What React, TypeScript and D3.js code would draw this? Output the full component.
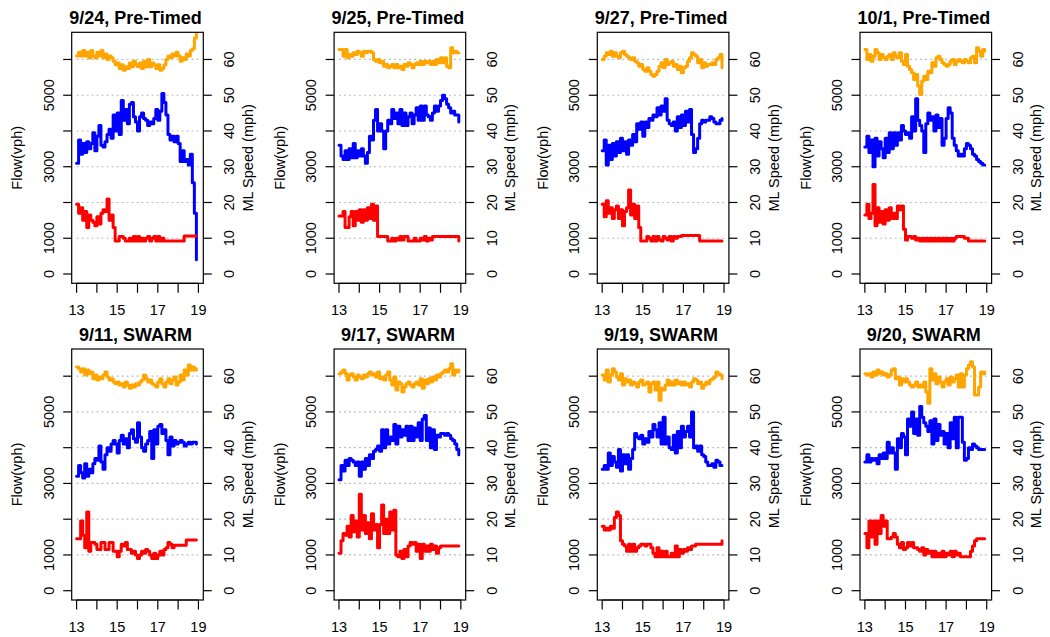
import React from "react";
import * as d3 from "d3";

// ---- time axis (hours) ----
const hours = [
  13.0, 13.1, 13.2, 13.3, 13.4, 13.5, 13.6, 13.7, 13.8, 13.9,
  14.0, 14.1, 14.2, 14.3, 14.4, 14.5, 14.6, 14.7, 14.8, 14.9,
  15.0, 15.1, 15.2, 15.3, 15.4, 15.5, 15.6, 15.7, 15.8, 15.9,
  16.0, 16.1, 16.2, 16.3, 16.4, 16.5, 16.6, 16.7, 16.8, 16.9,
  17.0, 17.1, 17.2, 17.3, 17.4, 17.5, 17.6, 17.7, 17.8, 17.9,
  18.0, 18.1, 18.2, 18.3, 18.4, 18.5, 18.6, 18.7, 18.8, 18.9,
];
const xTicks = [13, 14, 15, 16, 17, 18, 19];
const xTickLabels = ["13", "", "15", "", "17", "", "19"];
const flowTicks = [0, 1000, 2000, 3000, 4000, 5000, 6000];
const flowTickLabels = ["0", "1000", "", "3000", "", "5000", ""];
const speedTicks = [0, 10, 20, 30, 40, 50, 60];
const gridSpeeds = [10, 20, 30, 40, 50, 60];

const titles = [
  "9/24, Pre-Timed", "9/25, Pre-Timed", "9/27, Pre-Timed", "10/1, Pre-Timed",
  "9/11, SWARM", "9/17, SWARM", "9/19, SWARM", "9/20, SWARM",
];

// ---- ML speed (mph), orange ----
const speed0924 = [61,62,61,62.5,61,62,60.5,62.5,61,60.5, 62,61,62.5,60.5,61.5,60,61,60.5,59.5,58.5, 59,57.5,58.5,57,58,57.5,59,58,59.5,58.5, 58,59,57.5,59.5,58,60,58,59,58.5,57.5, 58.5,57,57.5,58.5,60,61,60.5,61.5,61,62, 61,59.5,60.5,60,61.5,61,62.5,63,66,69];
const speed0925 = [62.8,62.8,60.9,62.8,60.5,61.4,60.9,61.9,61.4,62.3, 61.9,60.9,62.3,61.9,62.3,62.3,61.9,60.0,59.5,60.0, 59.1,59.5,58.1,58.6,57.7,58.1,58.6,57.7,58.6,57.7, 58.1,57.2,58.6,58.1,59.1,58.6,57.7,58.6,59.1,58.6, 59.5,58.6,59.5,59.1,59.5,58.6,59.5,58.6,60.0,59.1, 60.5,59.1,60.5,58.1,57.7,63.3,61.9,62.3,61.9,61.9];
const speed0927 = [60.0,60.9,61.9,61.4,62.3,60.9,61.9,60.9,60.5,61.9, 62.3,61.4,60.9,60.5,60.0,60.5,59.5,59.1,58.1,58.6, 57.2,56.7,57.7,56.7,55.8,55.3,55.8,56.7,58.1,59.1, 57.7,60.0,58.6,59.1,59.5,58.1,58.6,57.2,58.1,56.3, 57.7,58.1,59.5,60.5,61.9,61.4,60.9,59.1,60.0,57.7, 59.1,58.1,58.6,58.6,59.1,58.6,60.0,60.5,61.4,57.7];
const speed1001 = [62.8,60.0,61.4,59.5,60.9,62.8,61.9,60.0,61.4,60.5, 60.0,60.9,61.4,60.0,61.9,60.9,60.5,61.9,59.5,58.6, 61.4,58.1,57.2,56.3,54.4,55.8,52.6,50.2,54.0,55.3, 54.4,56.7,56.3,59.1,58.1,60.5,60.9,60.0,59.1,58.6, 58.1,58.6,59.5,60.0,58.6,59.5,60.0,59.5,59.1,60.0, 59.5,59.1,60.5,60.9,59.1,63.3,62.3,60.9,62.8,62.3];
const speed0911 = [62.6,62.1,61.2,62.1,60.3,61.7,60.7,61.2,59.3,60.3, 58.9,59.8,59.3,60.3,61.2,59.8,58.9,59.3,58.4,57.9, 58.4,57.5,57.9,57.0,58.4,57.5,56.6,57.5,57.0,57.9, 57.5,58.4,58.9,60.3,59.3,58.4,58.9,57.9,57.5,57.0, 58.4,59.3,57.9,57.0,58.4,59.3,57.9,58.9,59.8,57.5, 58.4,60.3,58.9,61.7,60.3,63.1,61.7,62.6,61.7,62.1];
const speed0917 = [60.7,61.2,61.7,60.7,58.9,60.3,60.7,59.8,58.9,60.3, 59.8,59.3,60.3,59.8,60.7,61.2,60.3,60.7,59.8,61.2, 59.3,59.8,58.9,60.3,61.2,58.9,57.5,59.8,56.1,58.4, 57.9,55.6,57.0,57.9,58.4,57.5,57.0,57.9,58.4,57.5, 59.3,56.6,58.9,57.9,59.3,58.4,59.8,58.9,60.3,59.8, 60.7,61.2,61.7,61.2,62.1,63.5,60.3,61.7,61.2,61.7];
const speed0919 = [60.3,58.9,61.7,58.4,60.3,62.1,61.2,59.8,58.9,60.7, 57.5,59.3,58.4,58.9,57.5,58.4,57.9,57.0,58.4,58.9, 57.5,57.9,58.4,55.6,57.9,58.4,56.1,58.4,53.3,56.6, 56.1,57.5,58.9,57.5,58.4,57.5,58.9,57.9,58.4,57.5, 58.4,57.5,57.9,57.0,58.4,59.3,58.9,57.9,58.4,56.6, 57.5,58.4,57.9,58.9,59.3,59.8,61.2,60.7,60.3,59.3];
const speed0920 = [60.7,60.3,60.7,59.8,61.2,60.3,61.7,60.7,61.2,60.3, 60.7,59.8,60.3,61.7,62.1,59.3,59.8,57.5,59.3,58.4, 59.3,58.4,57.5,57.0,57.5,58.4,57.0,57.5,57.0,58.4, 55.6,52.4,62.1,58.9,60.7,57.9,59.8,58.4,57.0,58.4, 59.3,57.5,59.8,58.4,59.3,60.3,57.0,60.7,57.0,60.3, 62.1,63.1,64.0,62.6,54.7,54.7,57.0,61.2,60.7,61.2];

// ---- mainline flow (vph), blue ----
const mlFlow0924 = [3100,3750,3350,3650,3400,3700,3500,3650,3950,3450, 3850,4150,3600,3550,3700,3900,4050,3800,4450,4000, 4500,3900,4850,4300,4600,4200,4750,4800,4400,4250, 4000,4400,4500,4350,4300,4150,4250,4200,4350,4600, 4300,4550,5050,4800,4450,3900,3750,3850,3700,3850, 3650,3150,3450,3150,3200,3050,3350,2550,1700,400];
const mlFlow0925 = [3600,3300,3200,3450,3200,3500,3250,3650,3250,3450, 3300,3500,3300,3100,3400,3850,3750,4300,4600,4000, 4200,4000,3500,4000,4300,4200,4600,4350,4500,4200, 4600,4150,4500,4150,4400,4500,4200,4450,4650,4300, 4700,4300,4700,4450,4400,4300,4500,4700,4550,4700, 4850,5000,4900,4750,4650,4500,4550,4450,4450,4250];
const mlFlow0927 = [3450,3750,3050,3600,3200,3650,3300,3700,3400,3800, 3450,3700,3350,3750,3600,3900,3700,4200,4050,4250, 3850,4250,4100,4350,4300,4450,4400,4650,4450,4700, 4550,4900,4300,4200,4150,4250,4000,4400,4100,4450, 4150,4550,4250,4600,3900,3400,3500,3800,4200,4300, 4250,4300,4300,4400,4350,4250,4200,4200,4300,4350];
const mlFlow1001 = [3550,3850,3400,3750,3000,3800,3300,3700,3500,3250, 3800,3400,3950,3500,3950,3600,3950,3750,4150,4000, 3900,3950,3800,4400,4000,4900,4300,4150,4000,3400, 4200,4500,4300,4400,4000,4450,4100,4350,3600,3800, 4350,4650,4500,3800,3600,3450,3300,3350,3300,3500, 3650,3600,3500,3350,3300,3200,3150,3100,3050,3050];
const mlFlow0911 = [3200,3500,3300,3150,3550,3200,3400,3300,3550,3700, 3650,4050,3600,3400,3800,4000,3900,4100,4200,4100, 3850,4200,4350,4100,4250,4000,4400,4500,4250,4150, 4700,4300,4000,3900,4100,4200,4450,3700,4500,4100, 4600,4650,4400,4500,4200,3800,4300,4050,4200,4100, 4150,4200,4150,4050,4100,4150,4100,4150,4150,4100];
const mlFlow0917 = [3100,3500,3350,3650,3500,3700,3650,3600,3500,3600, 3200,3600,3400,3700,3500,3800,3700,3900,3950,4050, 3900,4500,4000,4500,4100,4300,4200,4650,4100,4600, 4300,4500,4350,4600,4200,4600,4200,4550,4300,4700, 4200,4800,4900,4200,4550,4000,4500,3950,4350,4300, 4400,4400,4350,4400,4350,4250,4200,4100,3950,3800];
const mlFlow0919 = [3400,3500,3400,3850,3500,3750,3600,3450,3950,3350, 3800,3550,3800,3400,3700,3950,4400,4300,4250,4350, 4100,4250,4150,4450,4300,4650,4500,4300,4700,4100, 4850,4100,4300,4000,3950,4350,3850,4450,4000,4600, 4300,4450,4600,4300,5000,4000,4050,3900,4050,3800, 3750,3600,3500,3500,3550,3450,3650,3600,3500,3500];
const mlFlow0920 = [3600,3800,3600,3700,3650,3700,3550,3800,3700,3850, 3700,4150,3850,4000,3850,3400,4250,4000,4400,4300, 3800,4800,4600,5000,4400,4800,4350,5150,4850,4700, 4600,4450,4750,4100,4800,4200,4650,4350,4450,4100, 4400,4000,4700,4250,4850,4000,4850,4850,4150,3650, 3700,4000,3950,4100,4050,4000,3950,3950,3950,3950];

// ---- ramp flow (vph), red ----
const rampFlow0924 = [1950,1700,1850,1500,1750,1300,1650,1500,1450,1350, 1600,1400,1700,1800,1750,2100,1500,1650,1300,920, 920,1050,1050,1000,920,920,1000,920,1050,920, 1050,920,1000,920,1000,1050,920,1000,1050,920, 1050,920,1000,920,920,920,920,920,920,920, 920,920,920,1060,1060,1060,1060,1060,1060,1060];
const rampFlow0925 = [1620,1620,1750,1300,1300,1600,1750,1350,1750,1500, 1800,1450,1800,1500,1850,1550,1950,1500,1900,1050, 1050,1050,1050,1050,920,920,1000,920,1000,950, 1050,950,1050,1050,920,920,920,1000,920,920, 1000,950,1050,920,1000,950,1050,1050,1050,1050, 1050,1050,1050,1050,1050,1050,1050,1050,1050,920];
const rampFlow0927 = [1950,1600,2050,1700,1850,1550,1800,1900,1550,1800, 1350,1750,1850,2350,1650,1950,1550,1900,1300,920, 920,920,1050,1000,920,1050,920,1050,950,920, 1050,1000,950,1050,920,1050,1000,1050,1050,1080, 1080,1080,1080,1080,1080,1080,1080,1080,920,920, 920,920,920,920,920,920,920,920,920,920];
const rampFlow1001 = [1650,1950,1550,1700,2500,1350,1850,1450,1750,1400, 1800,1500,1850,1550,1700,1550,1900,1800,1900,1250, 950,1050,1050,1000,1050,950,1000,920,1000,920, 1000,920,1000,920,1000,920,1000,920,1000,920, 1000,920,1000,920,1000,1050,1050,1050,1050,1000, 1000,920,920,920,920,920,920,920,920,920];
const rampFlow0911 = [1450,1450,1950,1550,1200,2200,1100,1350,1350,1300, 1150,1150,1350,1350,1150,1150,1350,1350,1100,1100, 950,1100,1300,1250,1350,1150,1150,1050,1100,1000, 900,1000,1100,1050,1150,1100,1000,900,1050,900, 1000,1100,1000,1150,1200,1350,1300,1200,1270,1270, 1270,1270,1270,1270,1420,1420,1420,1420,1420,1420];
const rampFlow0917 = [1050,1400,1600,1550,1800,1500,2100,1650,1950,1500, 2700,1700,2100,1600,1900,1450,2150,1700,1850,1200, 1850,2400,1600,2000,1600,2200,1700,2250,1000,950, 1100,900,1150,950,1250,1350,1300,1350,1100,1300, 900,1300,1100,1250,1100,1300,1150,1250,1050,1200, 1250,1250,1250,1250,1250,1250,1250,1250,1250,1250];
const rampFlow0919 = [1800,1700,1750,1700,1800,1750,2050,2200,2100,1400, 1300,1250,1100,1300,1100,1300,1100,1200,1250,1300, 1300,1250,1300,1300,1200,1050,950,1200,950,1100, 950,1100,950,950,1050,950,1250,950,1150,1050, 1150,1100,1200,1150,1250,1250,1300,1300,1300,1300, 1300,1300,1300,1300,1300,1300,1300,1300,1300,1400];
const rampFlow0920 = [1600,1200,1950,1500,1950,1300,1950,1600,2100,1800, 1950,1450,1450,1500,1600,1500,1300,1200,1350,1150, 1200,1350,1250,1350,1200,1200,1150,1100,1200,1000, 1150,1050,1100,950,1100,950,1050,950,1100,950, 1050,1000,1100,950,1100,1000,1050,950,950,950, 950,950,1100,1250,1400,1450,1450,1450,1450,1450];

const speeds = [speed0924, speed0925, speed0927, speed1001, speed0911, speed0917, speed0919, speed0920];
const mlFlows = [mlFlow0924, mlFlow0925, mlFlow0927, mlFlow1001, mlFlow0911, mlFlow0917, mlFlow0919, mlFlow0920];
const rampFlows = [rampFlow0924, rampFlow0925, rampFlow0927, rampFlow1001, rampFlow0911, rampFlow0917, rampFlow0919, rampFlow0920];

const W = 1050;
const H = 637;
const FONT = "'Liberation Sans', Arial, Helvetica, sans-serif";
const colOffsets = [0, 262.4, 525.6, 788.3];
const rowTops = [32.3, 349];
const BOX_L = 71.7;
const BOX_W = 131.6;
const BOX_H = 251;
const TICK_FS = 14.5;

function Panel({ idx }: { idx: number }) {
  const col = idx % 4;
  const row = Math.floor(idx / 4);
  const left = colOffsets[col] + BOX_L;
  const right = left + BOX_W;
  const top = rowTops[row];
  const bottom = top + BOX_H;

  const x = d3.scaleLinear().domain([12.76, 19.24]).range([left, right]);
  const yFlow = d3.scaleLinear().domain([-260, 6760]).range([bottom, top]);
  const ySpeed = d3.scaleLinear().domain([-2.6, 67.6]).range([bottom, top]);

  const flowLine = d3.line<number>().x((_, i) => x(hours[i])).y((d) => yFlow(d)).curve(d3.curveStepAfter);
  const rampLine = d3.line<number>().x((_, i) => x(hours[i])).y((d) => yFlow(d)).curve(d3.curveStepAfter);
  const speedLine = d3.line<number>().x((_, i) => x(hours[i])).y((d) => ySpeed(d)).curve(d3.curveStepAfter);

  const clipId = `clip${idx}`;
  const midY = (top + bottom) / 2;

  return (
    <g>
      <defs>
        <clipPath id={clipId}>
          <rect x={left} y={top} width={BOX_W} height={BOX_H} />
        </clipPath>
      </defs>
      {gridSpeeds.map((s) => (
        <line key={s} x1={x(13)} x2={x(19)} y1={ySpeed(s)} y2={ySpeed(s)}
          stroke="#bdbdbd" strokeWidth={1.2} strokeDasharray="2,3" />
      ))}
      <g clipPath={`url(#${clipId})`} fill="none" strokeWidth={3} strokeLinejoin="round" strokeLinecap="round">
        <path d={speedLine(speeds[idx]) || ""} stroke="#FFA500" />
        <path d={flowLine(mlFlows[idx]) || ""} stroke="#0000FF" />
        <path d={rampLine(rampFlows[idx]) || ""} stroke="#FF0000" />
      </g>
      <rect x={left} y={top} width={BOX_W} height={BOX_H} fill="none" stroke="#000" strokeWidth={1.2} />
      {/* title */}
      <text x={(left + right) / 2 - 2} y={top - 8.5} textAnchor="middle" fontFamily={FONT}
        fontWeight="bold" fontSize={18} fill="#000">{titles[idx]}</text>
      {/* x axis */}
      <line x1={x(13)} x2={x(19)} y1={bottom} y2={bottom} stroke="#000" strokeWidth={1.2} />
      {xTicks.map((t, i) => (
        <g key={t}>
          <line x1={x(t)} x2={x(t)} y1={bottom} y2={bottom + 9.5} stroke="#000" strokeWidth={1.2} />
          {xTickLabels[i] && (
            <text x={x(t)} y={bottom + 26.5} textAnchor="middle" dominantBaseline="central"
              fontFamily={FONT} fontSize={TICK_FS} fill="#000">{xTickLabels[i]}</text>
          )}
        </g>
      ))}
      {/* left axis */}
      {flowTicks.map((t, i) => (
        <g key={t}>
          <line x1={left - 8.5} x2={left} y1={yFlow(t)} y2={yFlow(t)} stroke="#000" strokeWidth={1.2} />
          {flowTickLabels[i] && (
            <text transform={`translate(${left - 23},${yFlow(t)}) rotate(-90)`} textAnchor="middle"
              dominantBaseline="central" fontFamily={FONT} fontSize={TICK_FS} fill="#000">{flowTickLabels[i]}</text>
          )}
        </g>
      ))}
      <text transform={`translate(${left - 54.5},${midY}) rotate(-90)`} textAnchor="middle"
        dominantBaseline="central" fontFamily={FONT} fontSize={TICK_FS} fill="#000">Flow(vph)</text>
      {/* right axis */}
      {speedTicks.map((t) => (
        <g key={t}>
          <line x1={right} x2={right + 8.5} y1={ySpeed(t)} y2={ySpeed(t)} stroke="#000" strokeWidth={1.2} />
          <text transform={`translate(${right + 26},${ySpeed(t)}) rotate(-90)`} textAnchor="middle"
            dominantBaseline="central" fontFamily={FONT} fontSize={TICK_FS} fill="#000">{t}</text>
        </g>
      ))}
      <text transform={`translate(${right + 44.7},${midY}) rotate(-90)`} textAnchor="middle"
        dominantBaseline="central" fontFamily={FONT} fontSize={TICK_FS} fill="#000">ML Speed (mph)</text>
    </g>
  );
}

export default function App() {
  return (
    <div style={{ position: "absolute", left: 0, top: 0, width: W, height: H, background: "#fff" }}>
      <svg width={W} height={H} viewBox={`0 0 ${W} ${H}`} style={{ display: "block" }}>
        <rect x={0} y={0} width={W} height={H} fill="#fff" />
        {titles.map((_, i) => (
          <Panel key={i} idx={i} />
        ))}
      </svg>
    </div>
  );
}
